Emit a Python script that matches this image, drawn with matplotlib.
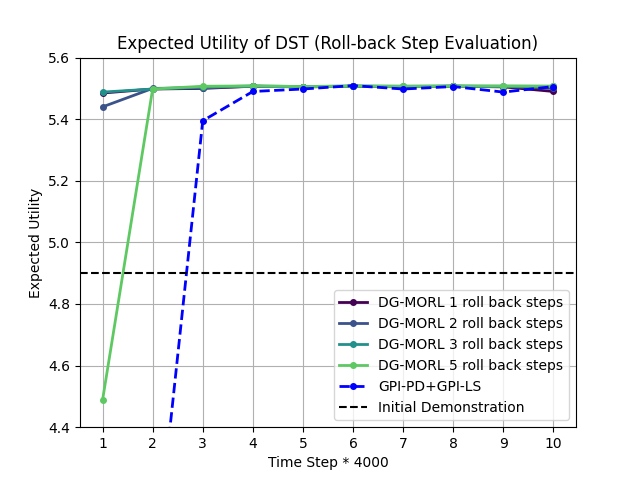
import matplotlib
matplotlib.use("Agg")
import matplotlib.pyplot as plt

steps = [1, 2, 3, 4, 5, 6, 7, 8, 9, 10]
dg_rb1 = [5.485, 5.498, 5.500, 5.507, 5.505, 5.507, 5.505, 5.507, 5.505, 5.490]
dg_rb2 = [5.440, 5.500, 5.502, 5.507, 5.505, 5.507, 5.506, 5.507, 5.506, 5.500]
dg_rb3 = [5.488, 5.498, 5.504, 5.508, 5.506, 5.508, 5.507, 5.508, 5.507, 5.507]
dg_rb5 = [4.488, 5.498, 5.507, 5.508, 5.506, 5.507, 5.507, 5.507, 5.508, 5.507]
gpi = [3.50, 3.87, 5.395, 5.490, 5.498, 5.509, 5.498, 5.506, 5.488, 5.506]
demo_utility = 4.9

fig, ax = plt.subplots(figsize=(6.4, 4.8))
series = [
    ("DG-MORL 1 roll back steps", dg_rb1, "#440154"),
    ("DG-MORL 2 roll back steps", dg_rb2, "#3b528b"),
    ("DG-MORL 3 roll back steps", dg_rb3, "#21918c"),
    ("DG-MORL 5 roll back steps", dg_rb5, "#5ec962"),
]
for label, vals, color in series:
    ax.plot(steps, vals, "o-", color=color, label=label, linewidth=2, markersize=4)
ax.plot(steps, gpi, "o--", color="blue", label="GPI-PD+GPI-LS", linewidth=2, markersize=4)
ax.axhline(demo_utility, color="black", linestyle="--", label="Initial Demonstration")

ax.set_ylim(4.4, 5.6)
ax.set_xticks(steps)
ax.set_xlabel("Time Step * 4000")
ax.set_ylabel("Expected Utility")
ax.set_title("Expected Utility of DST (Roll-back Step Evaluation)")
ax.grid(True)
ax.legend(loc="lower right")
fig.savefig("out.png", dpi=100)
